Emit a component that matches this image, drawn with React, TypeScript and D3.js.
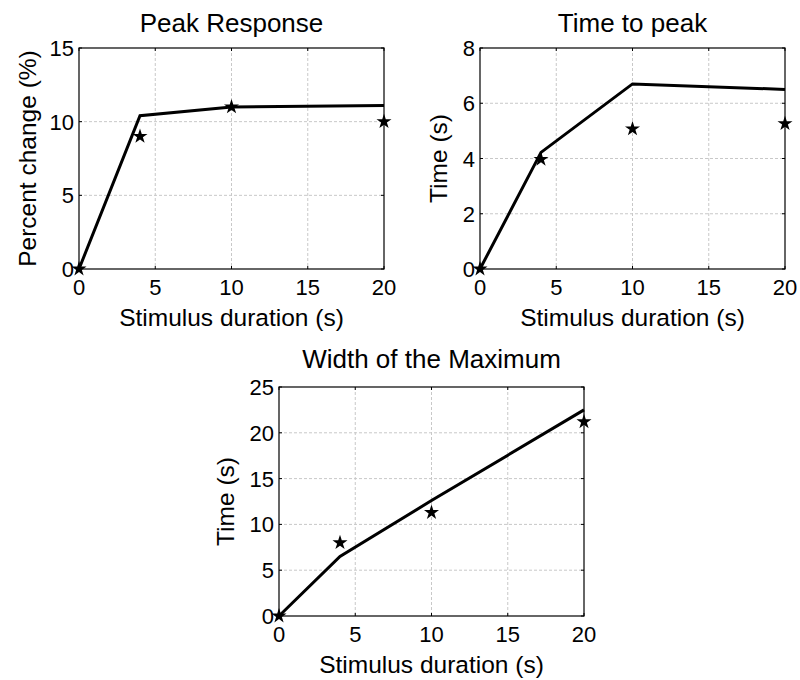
import React from "react";
import * as d3 from "d3";

const durations = [0, 4, 10, 20];
const xTicks = [0, 5, 10, 15, 20];

const peakModel = [0, 10.4, 11.0, 11.1];
const peakData = [0, 9.0, 11.0, 10.0];
const peakTicks = [0, 5, 10, 15];

const ttpModel = [0, 4.22, 6.7, 6.5];
const ttpData = [0, 3.97, 5.07, 5.26];
const ttpTicks = [0, 2, 4, 6, 8];

const widthModel = [0, 6.5, 12.6, 22.5];
const widthData = [0, 8.0, 11.3, 21.2];
const widthTicks = [0, 5, 10, 15, 20, 25];

const FONT = "'Liberation Sans', Arial, sans-serif";

type PanelProps = {
  left: number; right: number; top: number; bottom: number;
  yMax: number; yTicks: number[]; model: number[]; data: number[];
  title: string; ylabel: string; ylabelX: number; titleY: number;
};

function Panel(p: PanelProps) {
  const x = d3.scaleLinear().domain([0, 20]).range([p.left, p.right]);
  const y = d3.scaleLinear().domain([0, p.yMax]).range([p.bottom, p.top]);
  const line = d3.line<number>().x((_, i) => x(durations[i])).y((d) => y(d));
  const star = d3.symbol().type(d3.symbolStar).size(70)() as string;
  const midY = (p.top + p.bottom) / 2;
  return (
    <g>
      {xTicks.slice(1, -1).map((t) => (
        <line key={"gx" + t} x1={x(t)} x2={x(t)} y1={p.top} y2={p.bottom}
          stroke="#c8c8c8" strokeWidth={1} strokeDasharray="3,2" />
      ))}
      {p.yTicks.slice(1, -1).map((t) => (
        <line key={"gy" + t} x1={p.left} x2={p.right} y1={y(t)} y2={y(t)}
          stroke="#c8c8c8" strokeWidth={1} strokeDasharray="3,2" />
      ))}
      {xTicks.map((t) => (
        <g key={"tx" + t}>
          <line x1={x(t)} x2={x(t)} y1={p.bottom} y2={p.bottom - 3} stroke="#000" />
          <line x1={x(t)} x2={x(t)} y1={p.top} y2={p.top + 3} stroke="#000" />
          <text x={x(t)} y={p.bottom + 26} textAnchor="middle" fontSize={22} fontFamily={FONT}>{t}</text>
        </g>
      ))}
      {p.yTicks.map((t) => (
        <g key={"ty" + t}>
          <line x1={p.left} x2={p.left + 3} y1={y(t)} y2={y(t)} stroke="#000" />
          <line x1={p.right} x2={p.right - 3} y1={y(t)} y2={y(t)} stroke="#000" />
          <text x={p.left - 5} y={y(t) + 8} textAnchor="end" fontSize={22} fontFamily={FONT}>{t}</text>
        </g>
      ))}
      <rect x={p.left} y={p.top} width={p.right - p.left} height={p.bottom - p.top}
        fill="none" stroke="#000" strokeWidth={1.2} />
      <path d={line(p.model) || ""} fill="none" stroke="#000" strokeWidth={3} strokeLinejoin="miter" />
      {p.data.map((v, i) => (
        <path key={"s" + i} d={star} transform={`translate(${x(durations[i])},${y(v)})`} fill="#000" />
      ))}
      <text x={(p.left + p.right) / 2} y={p.titleY} textAnchor="middle" fontSize={26} fontFamily={FONT}>{p.title}</text>
      <text x={(p.left + p.right) / 2} y={p.bottom + 57} textAnchor="middle" fontSize={24.5} fontFamily={FONT}>Stimulus duration (s)</text>
      <text transform={`translate(${p.ylabelX},${midY}) rotate(-90)`} textAnchor="middle" fontSize={24.5} fontFamily={FONT}>{p.ylabel}</text>
    </g>
  );
}

export default function App() {
  return (
    <svg width={800} height={680} style={{ display: "block", position: "absolute", left: 0, top: 0, background: "#fff" }}>
      <rect x={0} y={0} width={800} height={680} fill="#fff" />
      <Panel left={79} right={384} top={48} bottom={269} yMax={15} yTicks={peakTicks} titleY={32}
        model={peakModel} data={peakData} title="Peak Response" ylabel="Percent change (%)" ylabelX={36} />
      <Panel left={480} right={785} top={48} bottom={269} yMax={8} yTicks={ttpTicks} titleY={32}
        model={ttpModel} data={ttpData} title="Time to peak" ylabel="Time (s)" ylabelX={447} />
      <Panel left={279} right={584} top={387} bottom={616} yMax={25} yTicks={widthTicks} titleY={368}
        model={widthModel} data={widthData} title="Width of the Maximum" ylabel="Time (s)" ylabelX={234} />
    </svg>
  );
}
